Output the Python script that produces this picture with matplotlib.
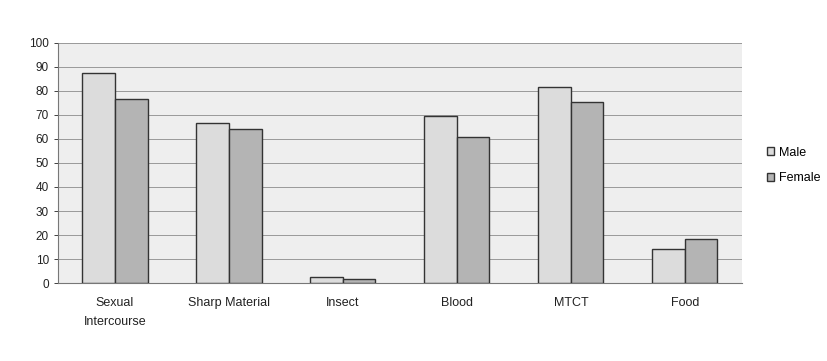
import matplotlib
matplotlib.use('Agg')
import matplotlib.pyplot as plt
import numpy as np

plt.rcParams['font.family'] = ['Liberation Sans', 'DejaVu Sans']

categorias = ['Sexual\nIntercourse', 'Sharp Material', 'Insect', 'Blood', 'MTCT', 'Food']
male = [87.5, 66.5, 2.5, 69.5, 81.5, 14]
female = [76.5, 64, 1.5, 61, 75.5, 18.5]

fig = plt.figure(figsize=(8.28, 3.61), dpi=100)
ax = fig.add_axes([0.070, 0.216, 0.826, 0.665])

x = np.arange(len(categorias))
ancho = 1 / 3.5

ax.bar(x - ancho / 2, male, width=ancho, color='#dcdcdc', edgecolor='#333333', linewidth=1.0, label='Male', zorder=3)
ax.bar(x + ancho / 2, female, width=ancho, color='#b4b4b4', edgecolor='#333333', linewidth=1.0, label='Female', zorder=3)

ax.set_xlim(-0.5, len(categorias) - 0.5)
ax.set_ylim(0, 100)
ax.set_yticks(np.arange(0, 101, 10))
ax.set_xticks(x)
ax.set_xticklabels(categorias, fontsize=9, color='#222222', linespacing=1.8)
ax.tick_params(axis='y', labelsize=8.5, colors='#222222', length=3, width=0.6)
ax.tick_params(axis='x', length=0, pad=10)
ax.set_facecolor('#eeeeee')
ax.grid(axis='y', color='#999999', linewidth=0.7, zorder=0)
for lado in ['top', 'right']:
    ax.spines[lado].set_visible(False)
ax.spines['left'].set_color('#777777')
ax.spines['bottom'].set_color('#777777')

ax.legend(loc='center left', bbox_to_anchor=(1.02, 0.49), frameon=False, fontsize=9,
          handlelength=0.6, handleheight=0.6, handletextpad=0.4, labelspacing=1.1)

fig.savefig('out.png', dpi=100)
